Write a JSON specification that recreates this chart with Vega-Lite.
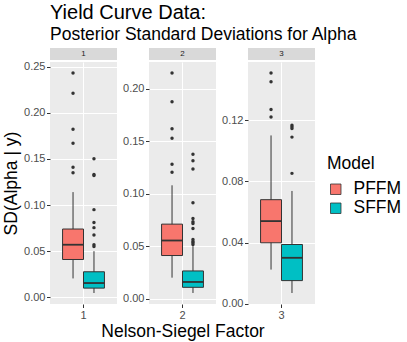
{
  "$schema": "https://vega.github.io/schema/vega-lite/v6.json",
  "padding": {"left": 2, "top": 2, "right": 5, "bottom": 5},
  "background": "white",
  "datasets": {
    "boxes": [
      {"factor": "1", "model": "PFFM", "lower": 0.0205, "q1": 0.041, "median": 0.057, "q3": 0.074, "upper": 0.114},
      {"factor": "1", "model": "SFFM", "lower": 0.0047, "q1": 0.010, "median": 0.0155, "q3": 0.0277, "upper": 0.050},
      {"factor": "2", "model": "PFFM", "lower": 0.020, "q1": 0.0411, "median": 0.0554, "q3": 0.071, "upper": 0.108},
      {"factor": "2", "model": "SFFM", "lower": 0.0054, "q1": 0.0108, "median": 0.0159, "q3": 0.0264, "upper": 0.050},
      {"factor": "3", "model": "PFFM", "lower": 0.0223, "q1": 0.0398, "median": 0.054, "q3": 0.068, "upper": 0.110},
      {"factor": "3", "model": "SFFM", "lower": 0.007, "q1": 0.0151, "median": 0.030, "q3": 0.0387, "upper": 0.0737}
    ],
    "outliers": [
      {"factor": "1", "model": "PFFM", "value": 0.243},
      {"factor": "1", "model": "PFFM", "value": 0.221},
      {"factor": "1", "model": "PFFM", "value": 0.182},
      {"factor": "1", "model": "PFFM", "value": 0.167},
      {"factor": "1", "model": "PFFM", "value": 0.141},
      {"factor": "1", "model": "PFFM", "value": 0.135},
      {"factor": "1", "model": "SFFM", "value": 0.150},
      {"factor": "1", "model": "SFFM", "value": 0.133},
      {"factor": "1", "model": "SFFM", "value": 0.132},
      {"factor": "1", "model": "SFFM", "value": 0.095},
      {"factor": "1", "model": "SFFM", "value": 0.081},
      {"factor": "1", "model": "SFFM", "value": 0.0755},
      {"factor": "1", "model": "SFFM", "value": 0.0676},
      {"factor": "1", "model": "SFFM", "value": 0.057},
      {"factor": "1", "model": "SFFM", "value": 0.055},
      {"factor": "2", "model": "PFFM", "value": 0.215},
      {"factor": "2", "model": "PFFM", "value": 0.1876},
      {"factor": "2", "model": "PFFM", "value": 0.1618},
      {"factor": "2", "model": "PFFM", "value": 0.1529},
      {"factor": "2", "model": "PFFM", "value": 0.128},
      {"factor": "2", "model": "PFFM", "value": 0.1204},
      {"factor": "2", "model": "SFFM", "value": 0.1376},
      {"factor": "2", "model": "SFFM", "value": 0.1315},
      {"factor": "2", "model": "SFFM", "value": 0.1236},
      {"factor": "2", "model": "SFFM", "value": 0.0914},
      {"factor": "2", "model": "SFFM", "value": 0.0764},
      {"factor": "2", "model": "SFFM", "value": 0.0732},
      {"factor": "2", "model": "SFFM", "value": 0.0717},
      {"factor": "2", "model": "SFFM", "value": 0.0669},
      {"factor": "2", "model": "SFFM", "value": 0.0564},
      {"factor": "2", "model": "SFFM", "value": 0.0545},
      {"factor": "2", "model": "SFFM", "value": 0.0532},
      {"factor": "2", "model": "SFFM", "value": 0.0516},
      {"factor": "3", "model": "PFFM", "value": 0.1508},
      {"factor": "3", "model": "PFFM", "value": 0.1451},
      {"factor": "3", "model": "PFFM", "value": 0.127},
      {"factor": "3", "model": "PFFM", "value": 0.122},
      {"factor": "3", "model": "SFFM", "value": 0.1167},
      {"factor": "3", "model": "SFFM", "value": 0.1156},
      {"factor": "3", "model": "SFFM", "value": 0.1145},
      {"factor": "3", "model": "SFFM", "value": 0.1089},
      {"factor": "3", "model": "SFFM", "value": 0.0852}
    ],
    "strips": [{"factor": "1"}, {"factor": "2"}, {"factor": "3"}]
  },
  "title": {
    "text": "Yield Curve Data:",
    "subtitle": "Posterior Standard Deviations for Alpha",
    "anchor": "start",
    "frame": "group",
    "fontSize": 20,
    "fontWeight": "normal",
    "color": "#000000",
    "subtitleFontSize": 17.5,
    "subtitleColor": "#000000",
    "subtitlePadding": 3.5,
    "offset": 4.5
  },
  "spacing": 0,
  "vconcat": [
    {
      "spacing": 32,
      "bounds": "flush",
      "hconcat": [
        {
          "data": {"name": "strips"},
          "transform": [{"filter": "datum.factor == '1'"}],
          "width": 67, "height": 12,
          "view": {"fill": "#D9D9D9", "stroke": null},
          "mark": {"type": "text", "fontSize": 8, "color": "#1A1A1A"},
          "encoding": {"text": {"field": "factor"}}
        },
        {
          "data": {"name": "strips"},
          "transform": [{"filter": "datum.factor == '2'"}],
          "width": 67, "height": 12,
          "view": {"fill": "#D9D9D9", "stroke": null},
          "mark": {"type": "text", "fontSize": 8, "color": "#1A1A1A"},
          "encoding": {"text": {"field": "factor"}}
        },
        {
          "data": {"name": "strips"},
          "transform": [{"filter": "datum.factor == '3'"}],
          "width": 67, "height": 12,
          "view": {"fill": "#D9D9D9", "stroke": null},
          "mark": {"type": "text", "fontSize": 8, "color": "#1A1A1A"},
          "encoding": {"text": {"field": "factor"}}
        }
      ]
    },
    {
      "spacing": 32,
      "bounds": "flush",
      "hconcat": [
        {
          "width": 67, "height": 242,
          "view": {"fill": "#EBEBEB", "stroke": null},
          "encoding": {
            "x": {"field": "factor", "type": "nominal", "scale": {"paddingOuter": 0.3, "paddingInner": 0}, "axis": {"title": null}},
            "xOffset": {"field": "model", "type": "nominal", "scale": {"paddingInner": 0, "paddingOuter": 0}}
          },
          "resolve": {"axis": {"y": "independent"}},
          "layer": [
            {
              "data": {"name": "boxes"},
              "transform": [{"filter": "datum.factor == '1'"}],
              "mark": {"type": "rule", "color": "#333333", "strokeWidth": 1},
              "encoding": {
                "y": {"field": "lower", "type": "quantitative", "title": "SD(Alpha | y)",
                  "scale": {"domain": [-0.0072, 0.2549], "nice": false, "zero": false},
                  "axis": {"values": [0, 0.05, 0.1, 0.15, 0.2, 0.25], "format": ".2f"}},
                "y2": {"field": "upper"}
              }
            },
            {
              "data": {"name": "boxes"},
              "transform": [{"filter": "datum.factor == '1'"}],
              "mark": {"type": "bar", "stroke": "#333333", "strokeWidth": 1},
              "encoding": {
                "y": {"field": "q1", "type": "quantitative", "axis": null},
                "y2": {"field": "q3"},
                "color": {"field": "model", "type": "nominal", "title": "Model"}
              }
            },
            {
              "data": {"name": "boxes"},
              "transform": [{"filter": "datum.factor == '1'"}],
              "mark": {"type": "tick", "color": "#333333", "thickness": 1.8, "size": 21, "opacity": 1},
              "encoding": {
                "y": {"field": "median", "type": "quantitative", "axis": null}
              }
            },
            {
              "data": {"name": "outliers"},
              "transform": [{"filter": "datum.factor == '1'"}],
              "mark": {"type": "point", "filled": true, "color": "#333333", "size": 12, "opacity": 1},
              "encoding": {
                "y": {"field": "value", "type": "quantitative",
                  "axis": {"values": [0.025, 0.075, 0.125, 0.175, 0.225], "labels": false, "ticks": false, "domain": false, "gridWidth": 0.55, "title": null, "orient": "left"}}
              }
            }
          ]
        },
        {
          "width": 67, "height": 242,
          "view": {"fill": "#EBEBEB", "stroke": null},
          "encoding": {
            "x": {"field": "factor", "type": "nominal", "scale": {"paddingOuter": 0.3, "paddingInner": 0}, "axis": {"title": "Nelson-Siegel Factor"}},
            "xOffset": {"field": "model", "type": "nominal", "scale": {"paddingInner": 0, "paddingOuter": 0}}
          },
          "resolve": {"axis": {"y": "independent"}},
          "layer": [
            {
              "data": {"name": "boxes"},
              "transform": [{"filter": "datum.factor == '2'"}],
              "mark": {"type": "rule", "color": "#333333", "strokeWidth": 1},
              "encoding": {
                "y": {"field": "lower", "type": "quantitative", "title": null,
                  "scale": {"domain": [-0.0051, 0.2255], "nice": false, "zero": false},
                  "axis": {"values": [0, 0.05, 0.1, 0.15, 0.2], "format": ".2f"}},
                "y2": {"field": "upper"}
              }
            },
            {
              "data": {"name": "boxes"},
              "transform": [{"filter": "datum.factor == '2'"}],
              "mark": {"type": "bar", "stroke": "#333333", "strokeWidth": 1},
              "encoding": {
                "y": {"field": "q1", "type": "quantitative", "axis": null},
                "y2": {"field": "q3"},
                "color": {"field": "model", "type": "nominal", "title": "Model"}
              }
            },
            {
              "data": {"name": "boxes"},
              "transform": [{"filter": "datum.factor == '2'"}],
              "mark": {"type": "tick", "color": "#333333", "thickness": 1.8, "size": 21, "opacity": 1},
              "encoding": {
                "y": {"field": "median", "type": "quantitative", "axis": null}
              }
            },
            {
              "data": {"name": "outliers"},
              "transform": [{"filter": "datum.factor == '2'"}],
              "mark": {"type": "point", "filled": true, "color": "#333333", "size": 12, "opacity": 1},
              "encoding": {
                "y": {"field": "value", "type": "quantitative",
                  "axis": {"values": [0.025, 0.075, 0.125, 0.175, 0.225], "labels": false, "ticks": false, "domain": false, "gridWidth": 0.55, "title": null, "orient": "left"}}
              }
            }
          ]
        },
        {
          "width": 67, "height": 242,
          "view": {"fill": "#EBEBEB", "stroke": null},
          "encoding": {
            "x": {"field": "factor", "type": "nominal", "scale": {"paddingOuter": 0.3, "paddingInner": 0}, "axis": {"title": null}},
            "xOffset": {"field": "model", "type": "nominal", "scale": {"paddingInner": 0, "paddingOuter": 0}}
          },
          "resolve": {"axis": {"y": "independent"}},
          "layer": [
            {
              "data": {"name": "boxes"},
              "transform": [{"filter": "datum.factor == '3'"}],
              "mark": {"type": "rule", "color": "#333333", "strokeWidth": 1},
              "encoding": {
                "y": {"field": "lower", "type": "quantitative", "title": null,
                  "scale": {"domain": [-0.0002, 0.158], "nice": false, "zero": false},
                  "axis": {"values": [0, 0.04, 0.08, 0.12], "format": ".2f"}},
                "y2": {"field": "upper"}
              }
            },
            {
              "data": {"name": "boxes"},
              "transform": [{"filter": "datum.factor == '3'"}],
              "mark": {"type": "bar", "stroke": "#333333", "strokeWidth": 1},
              "encoding": {
                "y": {"field": "q1", "type": "quantitative", "axis": null},
                "y2": {"field": "q3"},
                "color": {"field": "model", "type": "nominal", "title": "Model"}
              }
            },
            {
              "data": {"name": "boxes"},
              "transform": [{"filter": "datum.factor == '3'"}],
              "mark": {"type": "tick", "color": "#333333", "thickness": 1.8, "size": 21, "opacity": 1},
              "encoding": {
                "y": {"field": "median", "type": "quantitative", "axis": null}
              }
            },
            {
              "data": {"name": "outliers"},
              "transform": [{"filter": "datum.factor == '3'"}],
              "mark": {"type": "point", "filled": true, "color": "#333333", "size": 12, "opacity": 1},
              "encoding": {
                "y": {"field": "value", "type": "quantitative",
                  "axis": {"values": [0.02, 0.06, 0.1, 0.14], "labels": false, "ticks": false, "domain": false, "gridWidth": 0.55, "title": null, "orient": "left"}}
              }
            }
          ]
        }
      ]
    }
  ],
  "config": {
    "font": "Liberation Sans",
    "view": {"stroke": null},
    "range": {"category": ["#F8766D", "#00BFC4"]},
    "bar": {"opacity": 1},
    "axis": {
      "domain": false,
      "grid": true,
      "gridColor": "#FFFFFF",
      "gridWidth": 1.1,
      "gridOpacity": 1,
      "ticks": true,
      "tickColor": "#333333",
      "tickSize": 3.5,
      "tickWidth": 1,
      "labelFontSize": 11,
      "labelColor": "#4D4D4D",
      "labelPadding": 1.5,
      "titleFontSize": 17.5,
      "titleFontWeight": "normal",
      "titleColor": "#000000"
    },
    "axisX": {"labelAngle": 0, "bandPosition": 0.5, "titlePadding": 2},
    "axisY": {"titlePadding": 3},
    "legend": {
      "orient": "none",
      "legendX": 277,
      "legendY": 107,
      "titleFontSize": 17.5,
      "titleFontWeight": "normal",
      "titleColor": "#000000",
      "labelFontSize": 17.5,
      "labelColor": "#000000",
      "symbolType": "square",
      "symbolSize": 110,
      "symbolStrokeColor": "#333333",
      "symbolStrokeWidth": 0.8,
      "symbolOpacity": 1,
      "rowPadding": 0,
      "clipHeight": 15.5,
      "titlePadding": 9,
      "labelOffset": 9
    }
  }
}
